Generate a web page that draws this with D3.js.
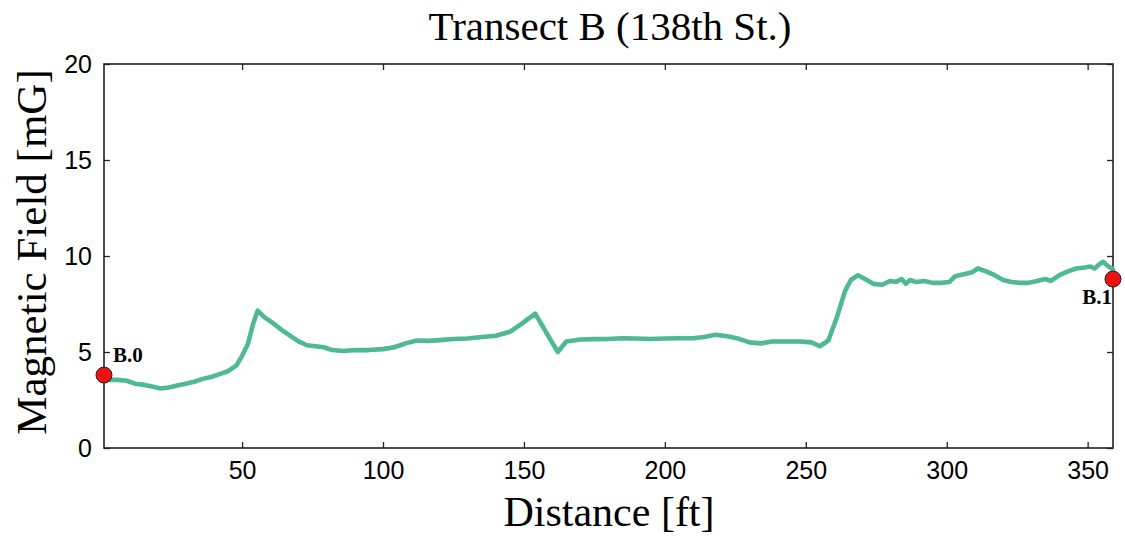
<!DOCTYPE html>
<html>
<head>
<meta charset="utf-8">
<script src="https://cdn.jsdelivr.net/npm/d3@7/dist/d3.min.js"></script>
<style>
  html, body { margin: 0; padding: 0; background: #fff; }
  svg { display: block; }
</style>
</head>
<body>
<svg id="chart" width="1125" height="536"></svg>
<script>
const distance = [1, 3, 6, 9, 12, 15, 18, 21, 24, 27, 30, 33, 36, 39, 42, 45, 48, 50, 52, 54, 55.5, 58, 61, 64, 67, 70, 73, 76, 79, 82, 86, 90, 95, 100, 104, 108, 112, 116, 120, 125, 130, 135, 140, 145, 149, 154, 158, 162, 165, 170, 175, 180, 185, 190, 195, 200, 205, 210, 214, 218, 222, 226, 230, 234, 238, 243, 248, 252, 255, 258, 261, 264, 266, 268.5, 271, 274, 277, 280, 282, 284, 285.5, 287, 289, 292, 295, 298, 301, 303, 306, 309, 311, 314, 317, 320, 323, 326, 329, 332, 335, 337, 340, 343, 346, 349, 351, 352.5, 354, 355.5, 357, 359];
const field = [3.7, 3.55, 3.55, 3.5, 3.35, 3.3, 3.2, 3.1, 3.15, 3.25, 3.35, 3.45, 3.6, 3.7, 3.85, 4.0, 4.3, 4.8, 5.4, 6.5, 7.15, 6.8, 6.5, 6.15, 5.85, 5.55, 5.35, 5.3, 5.25, 5.1, 5.05, 5.1, 5.1, 5.15, 5.25, 5.45, 5.6, 5.58, 5.62, 5.68, 5.7, 5.78, 5.85, 6.05, 6.45, 7.0, 6.0, 5.0, 5.55, 5.65, 5.67, 5.68, 5.72, 5.7, 5.68, 5.7, 5.72, 5.72, 5.78, 5.9, 5.82, 5.7, 5.5, 5.45, 5.55, 5.55, 5.55, 5.5, 5.3, 5.6, 6.8, 8.2, 8.75, 9.0, 8.8, 8.55, 8.5, 8.7, 8.65, 8.8, 8.55, 8.75, 8.65, 8.7, 8.6, 8.6, 8.65, 8.95, 9.05, 9.15, 9.35, 9.2, 9.0, 8.75, 8.65, 8.6, 8.6, 8.7, 8.8, 8.7, 9.0, 9.2, 9.35, 9.4, 9.45, 9.35, 9.55, 9.7, 9.5, 9.3];
const stationNames = ["B.0", "B.1"];
const stationDistance = [1, 359];
const stationField = [3.8, 8.8];
const xTicks = [50, 100, 150, 200, 250, 300, 350];
const yTicks = [0, 5, 10, 15, 20];
const titleText = "Transect B (138th St.)";
const xLabel = "Distance [ft]";
const yLabel = "Magnetic Field [mG]";

const L = 104, R = 1113, T = 64, B = 448;
const svg = d3.select("#chart");
const x = d3.scaleLinear().domain([1, 359]).range([L, R]);
const y = d3.scaleLinear().domain([0, 20]).range([B, T]);

const sans = "'Liberation Sans', Arial, sans-serif";
const serif = "'Liberation Serif', 'Times New Roman', serif";

// axes with inward ticks
const tk = 6;
const gx = svg.append("g").attr("transform", `translate(0,${B})`)
  .call(d3.axisBottom(x).tickValues(xTicks).tickSizeInner(-tk).tickSizeOuter(0).tickPadding(13));
const gxt = svg.append("g").attr("transform", `translate(0,${T})`)
  .call(d3.axisTop(x).tickValues(xTicks).tickSizeInner(-tk).tickSizeOuter(0).tickFormat(""));
const gy = svg.append("g").attr("transform", `translate(${L},0)`)
  .call(d3.axisLeft(y).tickValues(yTicks).tickSizeInner(-tk).tickSizeOuter(0).tickPadding(12));
const gyr = svg.append("g").attr("transform", `translate(${R},0)`)
  .call(d3.axisRight(y).tickValues(yTicks).tickSizeInner(-tk).tickSizeOuter(0).tickFormat(""));
[gx, gxt, gy, gyr].forEach(g => {
  g.select(".domain").remove();
  g.selectAll(".tick line").attr("stroke", "#222").attr("stroke-width", 1.3);
  g.selectAll("text").attr("font-family", sans).attr("font-size", 25).attr("fill", "#000");
});
gx.selectAll("text").attr("dy", "0.71em");

// frame
svg.append("rect").attr("x", L).attr("y", T).attr("width", R - L).attr("height", B - T)
  .attr("fill", "none").attr("stroke", "#222").attr("stroke-width", 1.6);

// line
const pts = distance.map((d, i) => [d, field[i]]);
svg.append("path").datum(pts)
  .attr("fill", "none").attr("stroke", "#4fb894").attr("stroke-width", 4.6)
  .attr("stroke-linejoin", "round").attr("stroke-linecap", "round")
  .attr("d", d3.line().x(d => x(d[0])).y(d => y(d[1])));

// stations
stationNames.forEach((n, i) => {
  svg.append("circle").attr("cx", x(stationDistance[i])).attr("cy", y(stationField[i])).attr("r", 8)
    .attr("fill", "#ee1111").attr("stroke", "#222").attr("stroke-width", 1);
});
svg.append("text").attr("x", x(stationDistance[0]) + 9).attr("y", y(stationField[0]) - 13)
  .attr("font-family", serif).attr("font-weight", "bold").attr("font-size", 21).text(stationNames[0]);
svg.append("text").attr("x", x(stationDistance[1]) - 1).attr("y", y(stationField[1]) + 25)
  .attr("text-anchor", "end")
  .attr("font-family", serif).attr("font-weight", "bold").attr("font-size", 21).text(stationNames[1]);

// titles
svg.append("text").attr("x", 610).attr("y", 40).attr("text-anchor", "middle")
  .attr("font-family", serif).attr("font-size", 41).text(titleText);
svg.append("text").attr("x", 609).attr("y", 526).attr("text-anchor", "middle")
  .attr("font-family", serif).attr("font-size", 42).text(xLabel);
svg.append("text").attr("transform", `translate(46,${(T + B) / 2 - 4}) rotate(-90)`).attr("text-anchor", "middle")
  .attr("font-family", serif).attr("font-size", 43).text(yLabel);
</script>
</body>
</html>
